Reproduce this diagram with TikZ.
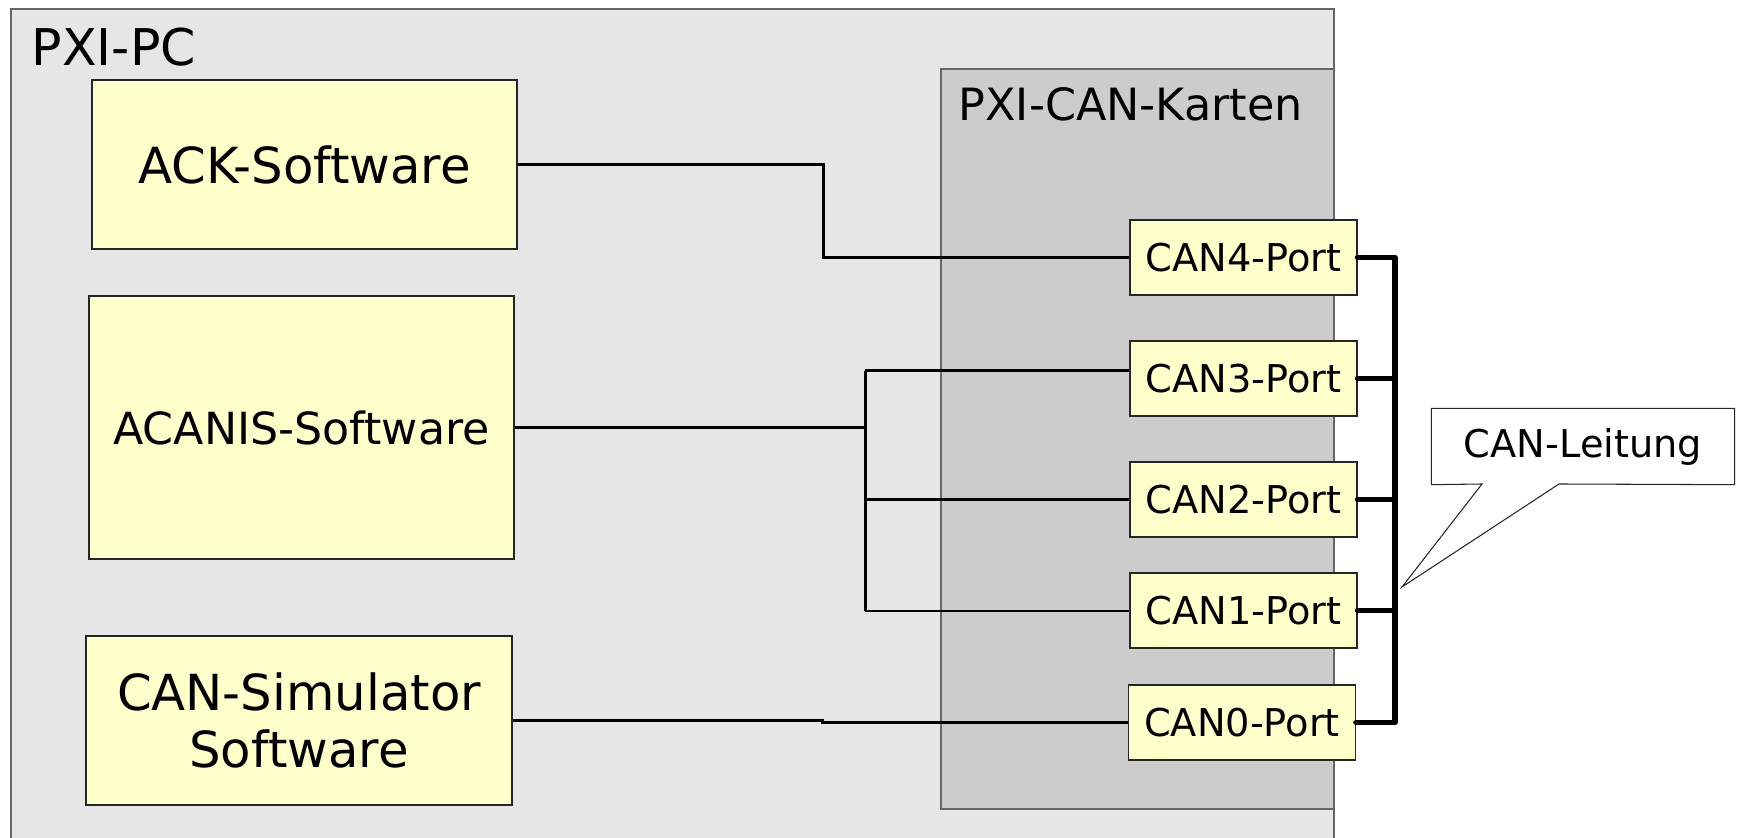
\documentclass[tikz,border=0pt]{standalone}
\usepackage{fontspec}
\setmainfont{DejaVu Sans}
\usetikzlibrary{calc}

\definecolor{softyellow}{HTML}{FFFFCC}
\definecolor{pcgray}{HTML}{E6E6E6}
\definecolor{cardgray}{HTML}{CCCCCC}
\definecolor{edgegray}{HTML}{666666}

\tikzset{
	swbox/.style={draw=black!85, line width=0.3pt, fill=softyellow, minimum width=4.25cm, inner sep=0pt, align=center, font=\fontsize{14.15}{16.1}\selectfont},
	portbox/.style={draw=black!85, line width=0.3pt, fill=softyellow, minimum width=2.27cm, minimum height=0.75cm, inner sep=0pt, font=\fontsize{10.9}{12.5}\selectfont},
	frame/.style={draw=edgegray, line width=0.3pt},
	wire/.style={line width=0.85pt},
	bus/.style={line width=1.6pt, line cap=round, line join=round}
}

\begin{document}
\begin{tikzpicture}
		\useasboundingbox[fill=white] (0,0) rectangle (17.37,-8.38);

		% PC and card frames
		\draw[frame, fill=pcgray] (0.11,-0.09) rectangle (13.34,-9.00);
		\draw[frame, fill=cardgray] (9.41,-0.69) rectangle (13.34,-8.09);

		\path (0.31,-0.66) node[anchor=base west, inner sep=0pt, font=\fontsize{14.4}{16}\selectfont] (pclabel) {PXI-PC}
		(9.58,-1.21) node[anchor=base west, inner sep=0pt, font=\fontsize{12.65}{14}\selectfont] (cardlabel) {PXI-CAN-Karten};

		% software boxes
		\path (3.045,-1.645) node[swbox, minimum height=1.69cm] (ack) {ACK-Software}
		(3.015,-4.275) node[swbox, minimum height=2.63cm, font=\fontsize{12.6}{14}\selectfont] (acanis) {ACANIS-Software}
		(2.99,-7.205) node[swbox, minimum height=1.69cm, minimum width=4.26cm] (sim) {CAN-Simulator\\Software};

		% ports
		\path (12.435,-2.575) node[portbox] (can4) {CAN4-Port}
		(12.435,-3.785) node[portbox] (can3) {CAN3-Port}
		(12.435,-4.995) node[portbox] (can2) {CAN2-Port}
		(12.435,-6.105) node[portbox] (can1) {CAN1-Port}
		(12.42,-7.225) node[portbox] (can0) {CAN0-Port};

		\coordinate (bustop) at (8.65,-3.71);
		\coordinate (busbot) at (8.65,-6.11);
		\coordinate (canline) at (13.95,0);

		% wiring
		\draw[wire] (ack.east) -- ++(3.06,0) |- (can4.west)
		(acanis.east) -- (acanis.east -| bustop)
		(bustop) -- (busbot)
		(bustop) -- (bustop -| can3.west)
		(bustop |- can2.west) -- (can2.west)
		(busbot) -- (busbot -| can1.west)
		(sim.east) -- ++(3.1,0) |- (can0.west);

		\draw[bus] (can4.east) -- (can4.east -| canline) -- (can0.east -| canline) -- (can0.east)
		(can3.east) -- (can3.east -| canline)
		(can2.east) -- (can2.east -| canline)
		(can1.east) -- (can1.east -| canline);

		% callout
		\node[fill=white, minimum width=3.02cm, minimum height=0.75cm, inner sep=0pt, font=\fontsize{10.9}{12.5}\selectfont] (leitung) at (15.83,-4.465) {CAN-Leitung};
		\coordinate (tip) at (14.02,-5.87);
		\draw[line width=0.3pt, draw=black!85, line join=miter] (leitung.south west) -- (14.82,-4.84) -- (tip) -- (15.59,-4.84) -- (leitung.south east) -- (leitung.north east) -- (leitung.north west) -- cycle;
	\end{tikzpicture}
\end{document}
